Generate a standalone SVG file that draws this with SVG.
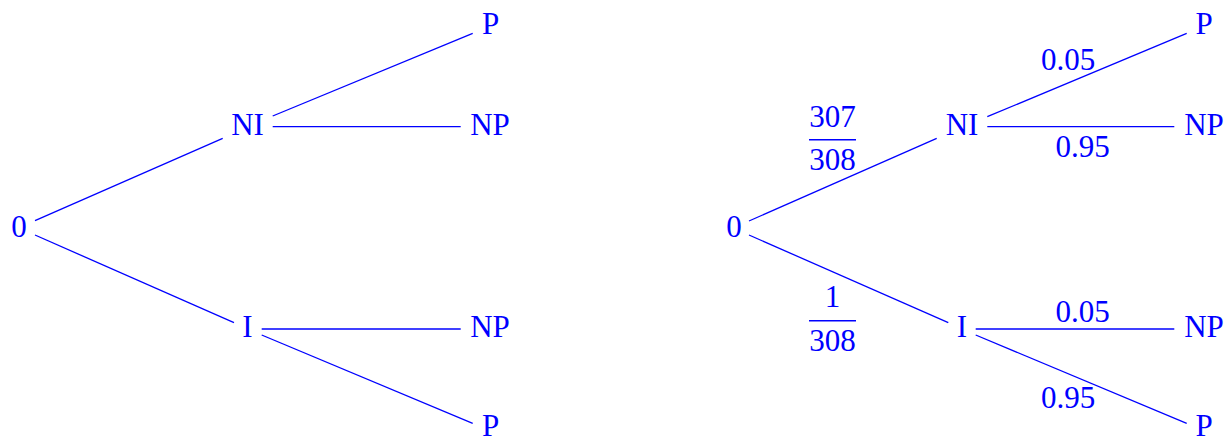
<svg xmlns="http://www.w3.org/2000/svg" width="1229" height="437" viewBox="0 0 1229 437">
<style>
text{font-family:"Liberation Serif","Times New Roman",serif;font-size:31px;fill:#0000ff;text-anchor:middle}
.e line{stroke:#0000ff;stroke-width:1.3;fill:none}
.bar{stroke:#0000ff;stroke-width:1.4}
</style>
<rect width="1229" height="437" fill="#fff"/>
<g class="e" id="connectors">
<line x1="35" y1="220.7" x2="222.7" y2="138.3"/>
<line x1="35" y1="235" x2="234" y2="322.7"/>
<line x1="272.7" y1="116" x2="472.7" y2="33.3"/>
<line x1="272.7" y1="126.7" x2="460.7" y2="126.7"/>
<line x1="261.7" y1="329" x2="460.7" y2="329"/>
<line x1="261.7" y1="335" x2="472.7" y2="423.3"/>
<line x1="749" y1="221" x2="936.7" y2="138.3"/>
<line x1="749" y1="235" x2="948.3" y2="322.7"/>
<line x1="987.3" y1="116.7" x2="1186.7" y2="33.3"/>
<line x1="987.3" y1="126.7" x2="1174.3" y2="126.7"/>
<line x1="975.7" y1="329" x2="1174.3" y2="329"/>
<line x1="975.7" y1="335" x2="1186.7" y2="423.3"/>
</g>
<g id="l-root"><text x="19" y="237">0</text></g>
<g id="l-NI"><text x="247.5" y="135">NI</text></g>
<g id="l-I"><text x="247.5" y="337">I</text></g>
<g id="l-NI-P"><text x="490.5" y="34">P</text></g>
<g id="l-NI-NP"><text x="490" y="135">NP</text></g>
<g id="l-I-NP"><text x="490" y="337">NP</text></g>
<g id="l-I-P"><text x="490.5" y="436">P</text></g>
<g id="r-root"><text x="734" y="237">0</text></g>
<g id="r-NI"><text x="962" y="135">NI</text></g>
<g id="r-I"><text x="962" y="337">I</text></g>
<g id="r-NI-P"><text x="1204" y="34">P</text></g>
<g id="r-NI-NP"><text x="1204" y="135">NP</text></g>
<g id="r-I-NP"><text x="1204" y="337">NP</text></g>
<g id="r-I-P"><text x="1204" y="436">P</text></g>
<g id="labels">
<text x="832.5" y="126.7">307</text>
<line class="bar" x1="809" y1="139.7" x2="856" y2="139.7"/>
<text x="832.5" y="170">308</text>
<text x="832.5" y="306.7">1</text>
<line class="bar" x1="809" y1="320.7" x2="856" y2="320.7"/>
<text x="832.5" y="351">308</text>
<text x="1068" y="70">0.05</text>
<text x="1082.5" y="156.7">0.95</text>
<text x="1082.5" y="321.7">0.05</text>
<text x="1068" y="408.3">0.95</text>
</g>
</svg>
